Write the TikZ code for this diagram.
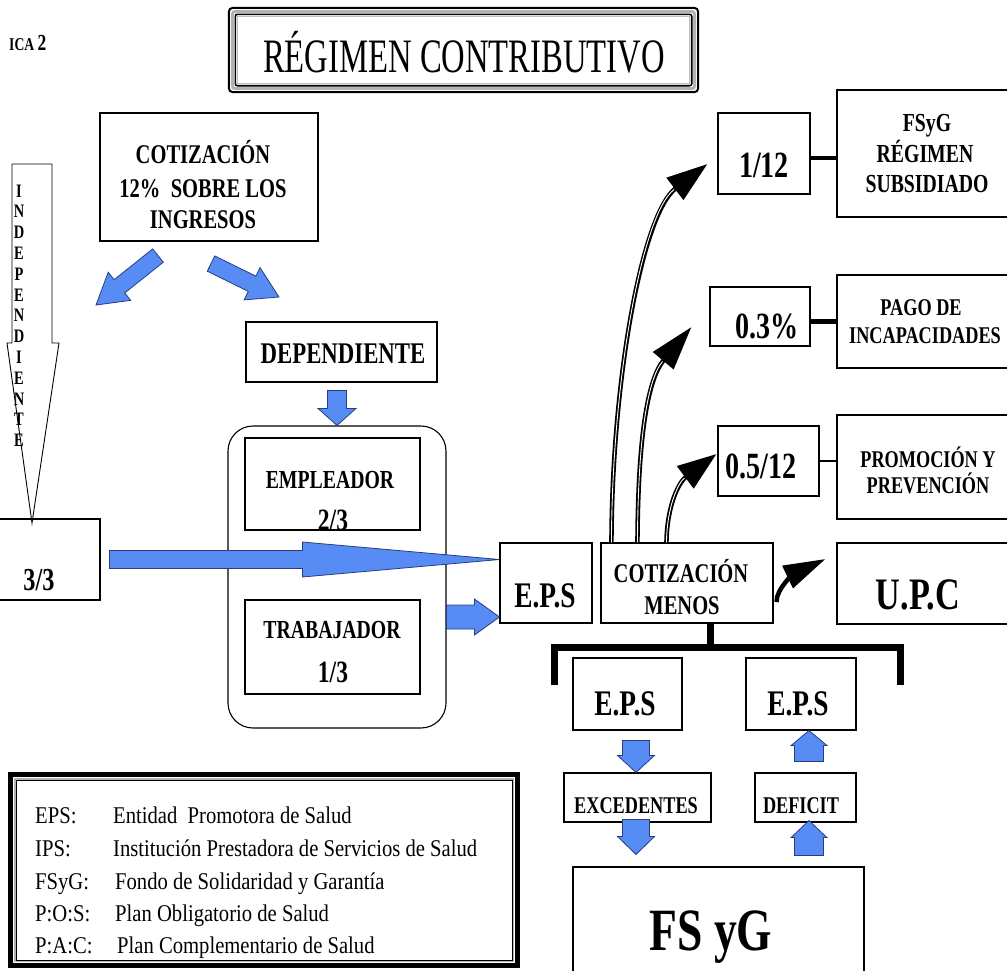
\documentclass[tikz,border=0pt]{standalone}
\usepackage{fontspec}
\setmainfont{Liberation Serif}[FakeStretch=0.76]
\newfontfamily\widefont{Liberation Serif}[FakeStretch=0.86]
\newfontfamily\titlefont{Liberation Serif}[FakeStretch=0.68]
\usetikzlibrary{calc,arrows.meta}
\definecolor{arrowblue}{RGB}{88,140,245}
\definecolor{arrowedge}{RGB}{40,60,130}
\newcommand{\fsz}[1]{\fontsize{#1}{#1}\selectfont}
% block arrow: tail, tip, shaft half width, head half width, head length
\newcommand{\blockarrow}[5]{%
  \path ($(#2)!#5pt!(#1)$) coordinate (ba-h);
  \draw[bluearrow] ($(#1)!#3pt!90:(#2)$) -- ($(ba-h)!#3pt!90:(#2)$)
    -- ($(ba-h)!#4pt!90:(#2)$) -- (#2) -- ($(ba-h)!#4pt!-90:(#2)$)
    -- ($(ba-h)!#3pt!-90:(#2)$) -- ($(#1)!#3pt!-90:(#2)$) -- cycle;}
\begin{document}
\begin{tikzpicture}[x=1pt,y=-1pt,
  box/.style={draw, line width=1.1pt, inner sep=0pt},
  wh/.style 2 args={minimum width=#1pt, minimum height=#2pt},
  txt/.style={inner sep=0pt, anchor=base, font=\bfseries\fsz{#1}},
  ltxt/.style={inner sep=0pt, anchor=base west, font=\widefont\fsz{24}},
  bluearrow/.style={draw=arrowedge, fill=arrowblue, line width=0.8pt, line join=miter},
  conn/.style={line width=#1pt},
  stem/.style={line width=4.5pt},
  stemhi/.style={white, line width=0.9pt}]
\useasboundingbox (0,0) rectangle (1007,970);

% heading
\node[inner sep=0pt, anchor=base west] (ica) at (9,50) {\bfseries\fsz{18}ICA \fsz{23}2};
\node[inner sep=0pt, wh={469}{84}] (title) at (463.5,50) {};
\draw[line width=2pt, rounded corners=4pt] (title.north west) rectangle (title.south east);
\draw[gray!60, line width=3pt, rounded corners=3pt] ([xshift=3.5pt,yshift=-3.5pt]title.north west) rectangle ([xshift=-3.5pt,yshift=3.5pt]title.south east);
\draw[line width=1.6pt, rounded corners=2pt] ([xshift=6.5pt,yshift=-6.5pt]title.north west) rectangle ([xshift=-6.5pt,yshift=6.5pt]title.south east);
\draw[gray!50, line width=0.8pt] ([xshift=8.5pt,yshift=-8.5pt]title.north west) rectangle ([xshift=-8.5pt,yshift=8.5pt]title.south east);
\node[inner sep=0pt, anchor=base, font=\titlefont\fsz{48}] (titletext) at (464,72) {RÉGIMEN CONTRIBUTIVO};

% contribution box
\node[box, wh={218}{128}] (cot) at (209,177) {};
\node[txt=27] (cot1) at (203,163) {COTIZACIÓN};
\node[txt=27] (cot2) at (203,197) {12\%~~SOBRE LOS};
\node[txt=27] (cot3) at (203,228) {INGRESOS};

% independent worker arrow
\node[box, wh={105}{81}] (three) at (47.5,559.5) {};
\node[txt=32] (threet) at (39,590) {3/3};
\draw[line width=0.9pt, line join=miter] (12,164) -- (52,164) -- (52,343) -- (59,343) -- (32,523) -- (7,343) -- (12,343) -- cycle;
\foreach \ch [count=\i from 0] in {I,N,D,E,P,E,N,D,I,E,N,T,E}
  \node[txt=19] (ind\i) at (19,{197+20.8*\i}) {\ch};

% dependent worker
\node[box, wh={191}{60}] (dep) at (341.5,352) {};
\node[txt=30] (dept) at (343,363) {DEPENDIENTE};
\node[box, wh={218}{302}, rounded corners=25pt] (cont) at (337,577) {};
\node[box, wh={175}{92}] (emp) at (332.5,484) {};
\node[txt=26] (empt) at (330,488) {EMPLEADOR};
\node[txt=31] (empn) at (333,530) {2/3};
\node[box, wh={175}{94}] (trab) at (332.5,647) {};
\node[txt=26] (trabt) at (332,638) {TRABAJADOR};
\node[txt=31] (trabn) at (333,682) {1/3};

% EPS and distribution
\node[box, wh={92}{80}] (eps) at (546,583) {};
\node[txt=36] (epst) at (545,607) {E.P.S};
\node[box, wh={172}{80}] (cm) at (687,583) {};
\node[txt=27] (cm1) at (681,582) {COTIZACIÓN};
\node[txt=27] (cm2) at (682,614) {MENOS};
\node[box, wh={173}{81}] (upc) at (923.5,583.5) {};
\node[txt=45] (upct) at (918,609) {U.P.C};

\node[box, wh={92}{81}] (r1) at (764,153.5) {};
\node[txt=37] (r1t) at (764,177) {1/12};
\node[box, wh={173}{127}] (fsyg) at (923.5,153.5) {};
\node[txt=26] (fsyg1) at (927,131) {FSyG};
\node[txt=26] (fsyg2t) at (925,162) {RÉGIMEN};
\node[txt=26] (fsyg3) at (927,192) {SUBSIDIADO};

\node[box, wh={100}{59}] (r2) at (760,316.5) {};
\node[txt=37] (r2t) at (767,338) {0.3\%};
\node[box, wh={173}{93}] (pago) at (923.5,321.5) {};
\node[txt=24] (pago1) at (921,315) {PAGO DE};
\node[txt=24] (pago2) at (925,343) {INCAPACIDADES};

\node[box, wh={101}{70}] (r3) at (768.5,461) {};
\node[txt=37] (r3t) at (761,478) {0.5/12};
\node[box, wh={173}{104}] (prom) at (923.5,467) {};
\node[txt=24] (prom1) at (928,467) {PROMOCIÓN Y};
\node[txt=24] (prom2) at (928,493) {PREVENCIÓN};

\draw[conn=4.5] ($(r1.east)+(0,4.5)$) -- ($(fsyg.west)+(0,4.5)$);
\draw[conn=4.5] (r2.east |- pago.west) -- (pago.west);
\draw[conn=2.5] (r3.east) -- (r3.east -| prom.west);

% surplus / deficit branch
\node[box, wh={109}{72}] (epsL) at (627.5,694) {};
\node[txt=36] (epsLt) at (625,715) {E.P.S};
\node[box, wh={110}{72}] (epsR) at (801,694) {};
\node[txt=36] (epsRt) at (798,715) {E.P.S};
\node[box, wh={147}{49}] (exc) at (637.5,797.5) {};
\node[txt=24] (exct) at (636,813) {EXCEDENTES};
\node[box, wh={101}{49}] (def) at (805.5,797.5) {};
\node[txt=24] (deft) at (801,813) {DEFICIT};
\node[box, wh={291}{123}] (fsyg2) at (718.5,928.5) {};
\node[txt=60] (fsyg2l) at (711,950) {FS yG};

\coordinate (brC) at ($(cm.south)+(23,24)$);
\coordinate (brL) at (554,647);
\coordinate (brR) at (900,647);
\draw[line width=7pt] ($(cm.south)+(23,0)$) -- (brC);
\draw[line width=7pt, line join=miter] ($(brL)+(0,38)$) -- (brL) -- (brR) -- ($(brR)+(0,38)$);

% blue block arrows
\coordinate (indiv) at (96,305);
\coordinate (depv) at (279,297);
\coordinate (bl1t) at ($(cot.south)+(-51,14)$);
\coordinate (bl2t) at ($(cot.south)+(2,22)$);
\blockarrow{bl1t}{indiv}{8.5}{18}{30}
\blockarrow{bl2t}{depv}{8.5}{18}{30}
\coordinate (bl3t) at ($(dep.south)+(-4.5,8)$);
\blockarrow{bl3t}{cont.north}{9.5}{19}{17}
\coordinate (bigT) at ($(three.east)+(9,0)$);
\coordinate (bigP) at (eps.west |- bigT);
\blockarrow{bigT}{bigP}{9}{17.5}{197}
\coordinate (smT) at ($(cont.east)+(0,40)$);
\coordinate (smP) at (eps.west |- smT);
\blockarrow{smT}{smP}{12}{18}{25}
\coordinate (d1T) at ($(epsL.south)+(8.5,10)$);
\coordinate (d1P) at ($(exc.north)+(-1.5,0)$);
\blockarrow{d1T}{d1P}{13.5}{18.5}{17}
\coordinate (d2T) at ($(exc.south)+(-1.5,-3)$);
\coordinate (d2P) at ($(fsyg2.north)+(-82.5,-12)$);
\blockarrow{d2T}{d2P}{13.5}{18.5}{18}
\coordinate (u1T) at ($(def.north)+(3.5,-11)$);
\coordinate (u1P) at ($(epsR.south)+(8,0)$);
\blockarrow{u1T}{u1P}{14.5}{18}{15}
\coordinate (u2T) at ($(fsyg2.north)+(90.5,-11)$);
\coordinate (u2P) at ($(def.south)+(3.5,-2)$);
\blockarrow{u2T}{u2P}{14.5}{18}{17}

% black curved arrows
\coordinate (c1s) at ($(cm.north west)+(11,0)$);
\coordinate (c1e) at ($(r1.west)+(-10,10.5)$);
\coordinate (c2s) at ($(cm.north west)+(37,0)$);
\coordinate (c2e) at ($(r2.west)+(-18,10.5)$);
\coordinate (c3s) at ($(cm.north west)+(66,0)$);
\coordinate (c3e) at ($(r3.west)+(-1,-7)$);
\coordinate (c4s) at ($(cm.east)+(3,19)$);
\coordinate (c4e) at ($(upc.west)+(-11,-24.5)$);
\draw[stem, -{Triangle[length=41pt,width=27pt]}] (c1s) .. controls (612,380) and (642,214) .. (c1e);
\draw[stemhi, shorten >=42pt] (c1s) .. controls (612,380) and (642,214) .. (c1e);
\draw[stem, -{Triangle[length=44pt,width=26pt]}] (c2s) .. controls (638,440) and (647,380) .. (c2e);
\draw[stemhi, shorten >=45pt] (c2s) .. controls (638,440) and (647,380) .. (c2e);
\draw[stem, -{Triangle[length=39pt,width=27pt]}] (c3s) .. controls (667,505) and (679,482) .. (c3e);
\draw[stemhi, shorten >=40pt] (c3s) .. controls (667,505) and (679,482) .. (c3e);
\draw[stem, -{Triangle[length=42pt,width=24pt]}] (c4s) .. controls (776,588) and (796,573) .. (c4e);

% legend
\node[inner sep=0pt, wh={507}{191}] (leg) at (264,870) {};
\draw[line width=5pt] (leg.north west) rectangle (leg.south east);
\draw[gray!60, line width=2pt] ([xshift=4.5pt,yshift=-4.5pt]leg.north west) rectangle ([xshift=-4.5pt,yshift=4.5pt]leg.south east);
\draw[line width=0.6pt] ([xshift=5.8pt,yshift=-5.8pt]leg.north west) rectangle ([xshift=-5.8pt,yshift=5.8pt]leg.south east);
\node[ltxt] (lk1) at (35,823) {EPS:};
\node[ltxt] (lv1) at (113,823) {Entidad\ \ Promotora de Salud};
\node[ltxt] (lk2) at (35,856) {IPS:};
\node[ltxt] (lv2) at (113,856) {Institución Prestadora de Servicios de Salud};
\node[ltxt] (lk3) at (35,889) {FSyG:};
\node[ltxt] (lv3) at (115,889) {Fondo de Solidaridad y Garantía};
\node[ltxt] (lk4) at (35,921) {P:O:S:};
\node[ltxt] (lv4) at (115,921) {Plan Obligatorio de Salud};
\node[ltxt] (lk5) at (35,953) {P:A:C:};
\node[ltxt] (lv5) at (117,953) {Plan Complementario de Salud};
\end{tikzpicture}
\end{document}
